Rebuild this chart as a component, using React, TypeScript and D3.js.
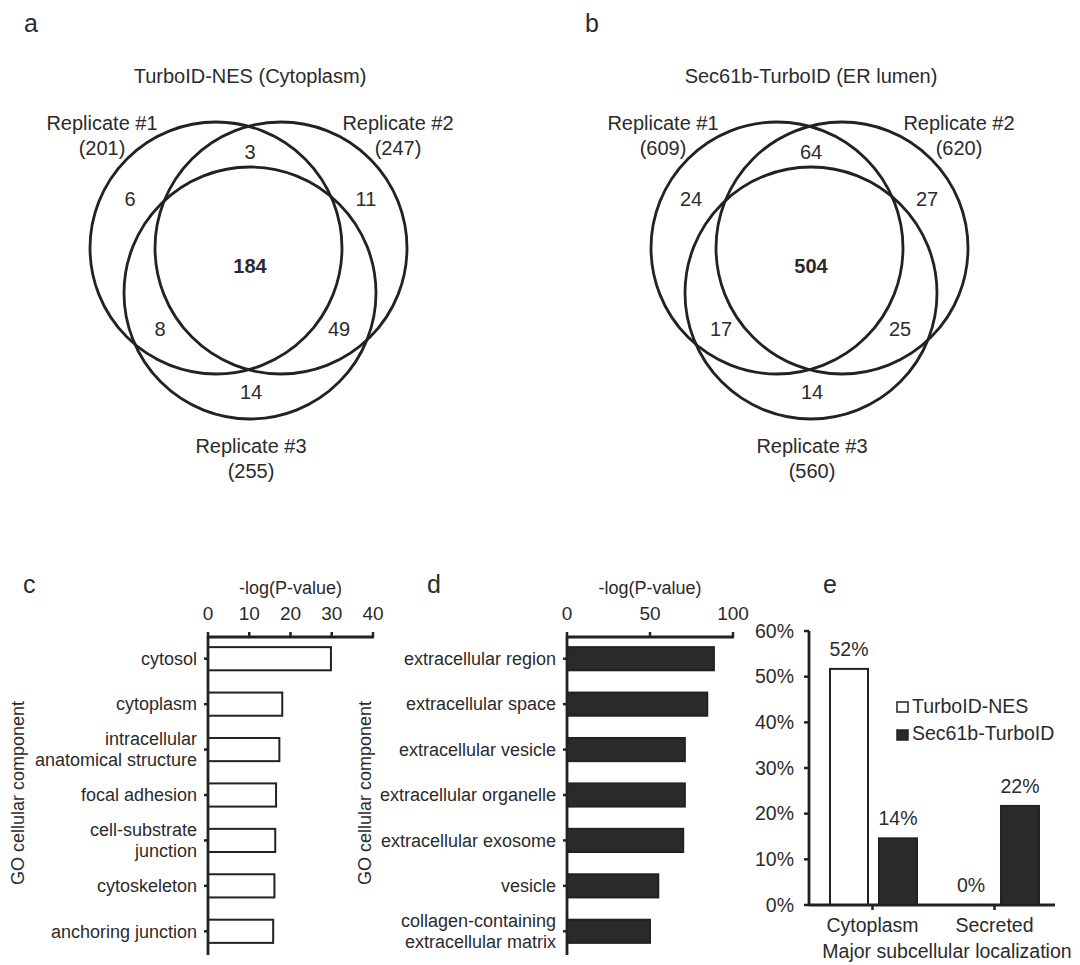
import React from "react";
import * as d3 from "d3";

// ---------- DATA ----------
const vennATitle = "TurboID-NES (Cytoplasm)";
const vennBTitle = "Sec61b-TurboID (ER lumen)";
const replicateNames = ["Replicate #1", "Replicate #2", "Replicate #3"];
const vennATotals = [201, 247, 255];
const vennBTotals = [609, 620, 560];
// region order: only1, only2, only3, 1&2, 1&3, 2&3, all
const vennARegions = [6, 11, 14, 3, 8, 49, 184];
const vennBRegions = [24, 27, 14, 64, 17, 25, 504];

const cytoTerms = [
  "cytosol",
  "cytoplasm",
  "intracellular\nanatomical structure",
  "focal adhesion",
  "cell-substrate\njunction",
  "cytoskeleton",
  "anchoring junction",
];
const cytoValues = [29.8, 18.0, 17.3, 16.5, 16.3, 16.1, 15.8];
const cytoTicks = [0, 10, 20, 30, 40];

const erTerms = [
  "extracellular region",
  "extracellular space",
  "extracellular vesicle",
  "extracellular organelle",
  "extracellular exosome",
  "vesicle",
  "collagen-containing\nextracellular matrix",
];
const erValues = [88.5, 84.5, 71, 71, 70, 55, 50];
const erTicks = [0, 50, 100];

const locCategories = ["Cytoplasm", "Secreted"];
const locSeries = ["TurboID-NES", "Sec61b-TurboID"];
const locNes = [0.517, 0.0];
const locSec = [0.146, 0.217];
const locLabelsNes = ["52%", "0%"];
const locLabelsSec = ["14%", "22%"];
const locTicks = [0, 0.1, 0.2, 0.3, 0.4, 0.5, 0.6];

// ---------- STYLE ----------
const FONT = "'Liberation Sans', Arial, Helvetica, sans-serif";
const TXT = "#2b2b2b";
const LINE = "#222";

// ---------- VENN ----------
function Venn({ cx, title, totals, regions, letter }: any) {
  const cy = 248;
  const r = 126;
  const circles = [
    { x: cx - 33, y: cy },
    { x: cx + 32, y: cy },
    { x: cx + 1, y: cy + 45 },
  ];
  // label anchor offsets (center of text), per region order
  const regionPos = [
    [-119, -49],
    [117, -49],
    [2, 144],
    [1, -96],
    [-89, 81],
    [90, 81],
    [1, 18],
  ];
  const setLabelPos = [
    [-147, -118],
    [149, -118],
    [2, 205],
  ];
  return (
    <g>
      <text x={cx - 225} y={32} fontSize={25} fill={TXT}>{letter}</text>
      <text x={cx + 1} y={83} fontSize={20} textAnchor="middle" fill={TXT}>{title}</text>
      {circles.map((c, i) => (
        <circle key={i} cx={c.x} cy={c.y} r={r} fill="none" stroke={LINE} strokeWidth={2.8} />
      ))}
      {regions.map((v: number, i: number) => (
        <text
          key={i}
          x={cx + regionPos[i][0]}
          y={cy + regionPos[i][1]}
          dy="0.35em"
          fontSize={20}
          fontWeight={i === 6 ? "bold" : "normal"}
          textAnchor="middle"
          fill={TXT}
        >
          {v}
        </text>
      ))}
      {replicateNames.map((n, i) => (
        <g key={n}>
          <text x={cx + setLabelPos[i][0]} y={cy + setLabelPos[i][1]} fontSize={20} textAnchor="middle" fill={TXT}>
            {n}
          </text>
          <text x={cx + setLabelPos[i][0]} y={cy + setLabelPos[i][1] + 25} fontSize={20} textAnchor="middle" fill={TXT}>
            ({totals[i]})
          </text>
        </g>
      ))}
    </g>
  );
}

// ---------- HORIZONTAL BAR (GO) ----------
function GoBars({ x0, x1, ticks, terms, values, dark, letter, letterX, ylabelX }: any) {
  const x = d3.scaleLinear().domain([0, ticks[ticks.length - 1]]).range([x0, x1]);
  const y = d3.scaleBand<string>().domain(terms).range([636, 954]).paddingInner(0.49).paddingOuter(0.245);
  const axisTop = 637;
  const axisBottom = 955;
  return (
    <g>
      <text x={letterX} y={593} fontSize={25} fill={TXT}>{letter}</text>
      <text x={(x0 + x1) / 2} y={594} fontSize={18} textAnchor="middle" fill={TXT}>-log(P-value)</text>
      {ticks.map((t: number) => (
        <g key={t}>
          <text x={x(t)} y={620} fontSize={19} textAnchor="middle" fill={TXT}>{t}</text>
          <line x1={x(t)} x2={x(t)} y1={axisTop} y2={axisTop - 5} stroke={LINE} strokeWidth={2.5} />
        </g>
      ))}
      {terms.map((t: string, i: number) => {
        const yc = (y(t) as number) + y.bandwidth() / 2;
        const lines = t.split("\n");
        return (
          <g key={t}>
            <rect
              x={x(0)}
              y={y(t)}
              width={x(values[i]) - x(0)}
              height={y.bandwidth()}
              fill={dark ? "#2a2a2a" : "#fff"}
              stroke={LINE}
              strokeWidth={2}
            />
            <line x1={x0} x2={x0 - 4} y1={yc} y2={yc} stroke={LINE} strokeWidth={2.5} />
            {lines.map((ln, j) => (
              <text
                key={j}
                x={x0 - 11}
                y={yc + (lines.length === 1 ? 0 : j === 0 ? -10.5 : 10.5)}
                dy="0.35em"
                fontSize={18}
                textAnchor="end"
                fill={TXT}
              >
                {ln}
              </text>
            ))}
          </g>
        );
      })}
      <line x1={x0} x2={x1 + 1} y1={axisTop} y2={axisTop} stroke={LINE} strokeWidth={2.8} />
      <line x1={x0} x2={x0} y1={axisTop - 1} y2={axisBottom} stroke={LINE} strokeWidth={2.8} />
      <text
        transform={`translate(${ylabelX},793) rotate(-90)`}
        dy="0.35em"
        fontSize={18}
        textAnchor="middle"
        fill={TXT}
      >
        GO cellular component
      </text>
    </g>
  );
}

// ---------- VERTICAL BAR (localization) ----------
function LocBars() {
  const y = d3.scaleLinear().domain([0, 0.6]).range([905, 631]);
  const x = d3.scaleBand<string>().domain(locCategories).range([812, 1056]);
  const xs = d3.scaleBand<string>().domain(locSeries).range([18, 105]).paddingInner(0.224);
  const axisX = 809;
  const fmt = d3.format(".0%");
  const series = [
    { name: locSeries[0], values: locNes, labels: locLabelsNes, fill: "#fff" },
    { name: locSeries[1], values: locSec, labels: locLabelsSec, fill: "#2a2a2a" },
  ];
  return (
    <g>
      <text x={823} y={593} fontSize={25} fill={TXT}>e</text>
      {locTicks.map((t) => (
        <g key={t}>
          <line x1={axisX} x2={axisX - 5} y1={y(t)} y2={y(t)} stroke={LINE} strokeWidth={2.5} />
          <text x={794} y={y(t)} dy="0.35em" fontSize={19.5} textAnchor="end" fill={TXT}>{fmt(t)}</text>
        </g>
      ))}
      {series.map((s) =>
        locCategories.map((c, i) => {
          const bx = (x(c) as number) + (xs(s.name) as number);
          return (
            <g key={s.name + c}>
              {s.values[i] > 0 && (
                <rect
                  x={bx}
                  y={y(s.values[i])}
                  width={xs.bandwidth()}
                  height={y(0) - y(s.values[i])}
                  fill={s.fill}
                  stroke={LINE}
                  strokeWidth={2}
                />
              )}
              <text x={bx + xs.bandwidth() / 2} y={y(s.values[i]) - 13} fontSize={19.5} textAnchor="middle" fill={TXT}>
                {s.labels[i]}
              </text>
            </g>
          );
        })
      )}
      {locCategories.map((c) => {
        const cx = (x(c) as number) + x.bandwidth() / 2 - 0.5;
        return (
          <g key={c}>
            <line x1={cx} x2={cx} y1={905} y2={910} stroke={LINE} strokeWidth={2.5} />
            <text x={cx} y={932} fontSize={19.5} textAnchor="middle" fill={TXT}>{c}</text>
          </g>
        );
      })}
      <line x1={axisX} x2={1055} y1={905} y2={905} stroke={LINE} strokeWidth={2.8} />
      <line x1={axisX} x2={axisX} y1={631} y2={906} stroke={LINE} strokeWidth={2.8} />
      <text x={947} y={958} fontSize={19.5} textAnchor="middle" fill={TXT}>Major subcellular localization</text>
      {series.map((s, i) => (
        <g key={s.name}>
          <rect x={897} y={702 + i * 28} width={11} height={10} fill={s.fill} stroke={LINE} strokeWidth={1.5} />
          <text x={912} y={713 + i * 27} fontSize={19.5} fill={TXT}>{s.name}</text>
        </g>
      ))}
    </g>
  );
}

export default function App() {
  return (
    <svg
      width={1080}
      height={965}
      viewBox="0 0 1080 965"
      style={{ position: "absolute", left: 0, top: 0, background: "#fff" }}
      fontFamily={FONT}
    >
      <rect width={1080} height={965} fill="#fff" />
      <Venn cx={249} title={vennATitle} totals={vennATotals} regions={vennARegions} letter="a" />
      <Venn cx={810} title={vennBTitle} totals={vennBTotals} regions={vennBRegions} letter="b" />
      <GoBars x0={208} x1={373} ticks={cytoTicks} terms={cytoTerms} values={cytoValues} dark={false} letter="c" letterX={23} ylabelX={18} />
      <GoBars x0={567} x1={733} ticks={erTicks} terms={erTerms} values={erValues} dark={true} letter="d" letterX={427} ylabelX={365} />
      <LocBars />
    </svg>
  );
}
